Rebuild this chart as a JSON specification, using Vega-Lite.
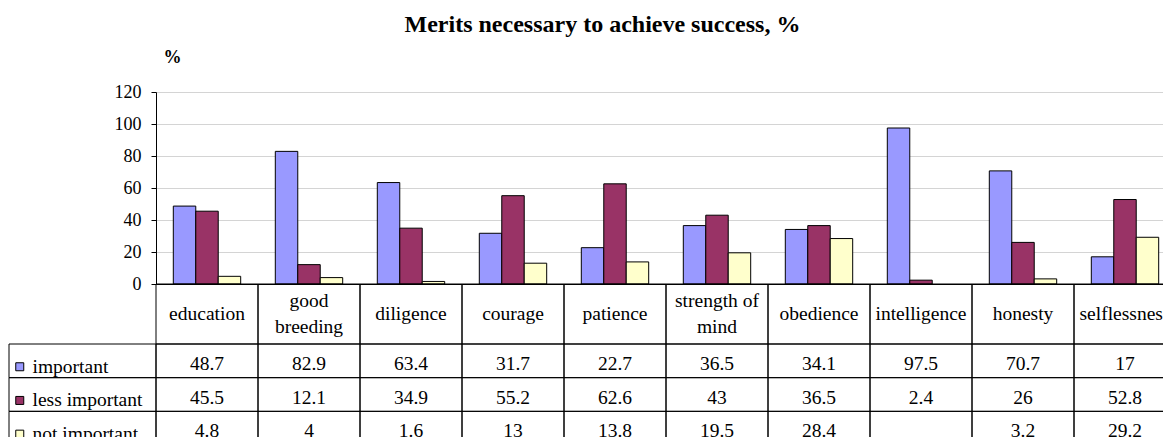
{
  "$schema": "https://vega.github.io/schema/vega-lite/v6.json",
  "padding": {"left": 8, "top": 13, "right": 0, "bottom": 0},
  "title": {"text": "Merits necessary to achieve success, %", "font": "Liberation Serif", "fontSize": 24, "fontWeight": "bold", "color": "black", "anchor": "middle", "frame": "bounds", "baseline": "alphabetic", "offset": -8, "dx": 10},
  "datasets": {
    "main": [
      {"category": "education", "series": "important", "value": 48.7},
      {"category": "education", "series": "less important", "value": 45.5},
      {"category": "education", "series": "not important", "value": 4.8},
      {"category": "good breeding", "series": "important", "value": 82.9},
      {"category": "good breeding", "series": "less important", "value": 12.1},
      {"category": "good breeding", "series": "not important", "value": 4},
      {"category": "diligence", "series": "important", "value": 63.4},
      {"category": "diligence", "series": "less important", "value": 34.9},
      {"category": "diligence", "series": "not important", "value": 1.6},
      {"category": "courage", "series": "important", "value": 31.7},
      {"category": "courage", "series": "less important", "value": 55.2},
      {"category": "courage", "series": "not important", "value": 13},
      {"category": "patience", "series": "important", "value": 22.7},
      {"category": "patience", "series": "less important", "value": 62.6},
      {"category": "patience", "series": "not important", "value": 13.8},
      {"category": "strength of mind", "series": "important", "value": 36.5},
      {"category": "strength of mind", "series": "less important", "value": 43},
      {"category": "strength of mind", "series": "not important", "value": 19.5},
      {"category": "obedience", "series": "important", "value": 34.1},
      {"category": "obedience", "series": "less important", "value": 36.5},
      {"category": "obedience", "series": "not important", "value": 28.4},
      {"category": "intelligence", "series": "important", "value": 97.5},
      {"category": "intelligence", "series": "less important", "value": 2.4},
      {"category": "intelligence", "series": "not important", "value": null},
      {"category": "honesty", "series": "important", "value": 70.7},
      {"category": "honesty", "series": "less important", "value": 26},
      {"category": "honesty", "series": "not important", "value": 3.2},
      {"category": "selflessness", "series": "important", "value": 17},
      {"category": "selflessness", "series": "less important", "value": 52.8},
      {"category": "selflessness", "series": "not important", "value": 29.2}
    ],
    "cats": [
      {"category": "education", "label": "education"},
      {"category": "good breeding", "label": "good\nbreeding"},
      {"category": "diligence", "label": "diligence"},
      {"category": "courage", "label": "courage"},
      {"category": "patience", "label": "patience"},
      {"category": "strength of mind", "label": "strength of\nmind"},
      {"category": "obedience", "label": "obedience"},
      {"category": "intelligence", "label": "intelligence"},
      {"category": "honesty", "label": "honesty"},
      {"category": "selflessness", "label": "selflessness"}
    ],
    "series": [
      {"series": "important"},
      {"series": "less important"},
      {"series": "not important"}
    ]
  },
  "columns": 2,
  "spacing": 0,
  "bounds": "flush",
  "resolve": {"scale": {"x": "independent", "y": "independent", "color": "independent"}, "legend": {"color": "independent"}},
  "config": {
    "font": "Liberation Serif",
    "view": {"stroke": null},
    "text": {"color": "black", "font": "Liberation Serif"},
    "axis": {"labelFont": "Liberation Serif", "titleFont": "Liberation Serif"},
    "legend": {"labelFont": "Liberation Serif", "titleFont": "Liberation Serif"}
  },
  "concat": [
    {
      "width": 147, "height": 192,
      "data": {"values": [{}]},
      "mark": "text",
      "encoding": {"text": {"value": ""}}
    },
    {
      "width": 1020, "height": 192,
      "data": {"name": "main"},
      "mark": {"type": "bar", "stroke": "black", "strokeWidth": 1},
      "encoding": {
        "x": {"field": "category", "type": "nominal", "sort": null,
          "scale": {"domain": ["education", "good breeding", "diligence", "courage", "patience", "strength of mind", "obedience", "intelligence", "honesty", "selflessness"], "paddingInner": 0, "paddingOuter": 0},
          "axis": {"labels": false, "ticks": false, "title": null, "grid": false, "domainColor": "black", "domainWidth": 1}},
        "xOffset": {"field": "series", "type": "nominal",
          "scale": {"domain": ["important", "less important", "not important"], "paddingInner": 0, "paddingOuter": 0.77}},
        "y": {"field": "value", "type": "quantitative",
          "scale": {"domain": [0, 120], "nice": false},
          "axis": {"values": [0, 20, 40, 60, 80, 100, 120], "domainColor": "black", "tickColor": "black", "tickSize": 5, "labelFont": "Liberation Serif", "labelFontSize": 18, "labelColor": "black", "labelPadding": 10, "gridColor": "#d4d4d4", "title": "%", "titleFont": "Liberation Serif", "titleAngle": 0, "titleX": 16, "titleY": -30, "titleAlign": "center", "titleBaseline": "alphabetic", "titleFontSize": 18, "titleFontWeight": "bold", "titleColor": "black"}},
        "color": {"field": "series", "type": "nominal",
          "scale": {"domain": ["important", "less important", "not important"], "range": ["#9999FF", "#993366", "#FFFFCC"]},
          "legend": {"title": null, "orient": "none", "legendX": -146, "legendY": 265, "padding": 0, "symbolType": "square", "symbolSize": 64, "symbolStrokeColor": "black", "symbolStrokeWidth": 1, "symbolOpacity": 1, "labelFont": "Liberation Serif", "labelFontSize": 19.5, "labelColor": "black", "labelOffset": 3, "rowPadding": 12.7, "labelLimit": 200}}
      }
    },
    {
      "width": 147, "height": 60,
      "data": {"values": [{}]},
      "mark": "text",
      "encoding": {"text": {"value": ""}}
    },
    {
      "width": 1020, "height": 60,
      "data": {"name": "cats"},
      "encoding": {
        "x": {"field": "category", "type": "nominal", "sort": null,
          "scale": {"domain": ["education", "good breeding", "diligence", "courage", "patience", "strength of mind", "obedience", "intelligence", "honesty", "selflessness"], "paddingInner": 0, "paddingOuter": 0},
          "axis": null}
      },
      "layer": [
        {
          "mark": {"type": "rect", "filled": false, "stroke": "black", "strokeWidth": 1}
        },
        {
          "transform": [{"filter": {"not": {"field": "category", "oneOf": ["good breeding", "strength of mind"]}}}],
          "mark": {"type": "text", "font": "Liberation Serif", "fontSize": 19.5, "align": "center", "baseline": "middle"},
          "encoding": {"text": {"field": "label", "type": "nominal"}}
        },
        {
          "transform": [{"filter": {"field": "category", "oneOf": ["good breeding", "strength of mind"]}}],
          "mark": {"type": "text", "font": "Liberation Serif", "fontSize": 19.5, "align": "center", "baseline": "middle", "lineBreak": "\n", "lineHeight": 26, "dy": -13},
          "encoding": {"text": {"field": "label", "type": "nominal"}}
        }
      ]
    },
    {
      "width": 147, "height": 101,
      "data": {"name": "series"},
      "mark": {"type": "rect", "filled": false, "stroke": "black", "strokeWidth": 1},
      "encoding": {
        "y": {"field": "series", "type": "nominal", "sort": null,
          "scale": {"domain": ["important", "less important", "not important"], "paddingInner": 0, "paddingOuter": 0},
          "axis": null}
      }
    },
    {
      "width": 1020, "height": 101,
      "data": {"name": "main"},
      "encoding": {
        "x": {"field": "category", "type": "nominal", "sort": null,
          "scale": {"domain": ["education", "good breeding", "diligence", "courage", "patience", "strength of mind", "obedience", "intelligence", "honesty", "selflessness"], "paddingInner": 0, "paddingOuter": 0},
          "axis": null},
        "y": {"field": "series", "type": "nominal", "sort": null,
          "scale": {"domain": ["important", "less important", "not important"], "paddingInner": 0, "paddingOuter": 0},
          "axis": null}
      },
      "layer": [
        {"mark": {"type": "rect", "filled": false, "stroke": "black", "strokeWidth": 1}},
        {
          "transform": [{"filter": "datum.value != null"}],
          "mark": {"type": "text", "font": "Liberation Serif", "fontSize": 19.5, "align": "center", "baseline": "middle", "dy": 3},
          "encoding": {"text": {"field": "value", "type": "nominal"}}
        }
      ]
    }
  ]
}
